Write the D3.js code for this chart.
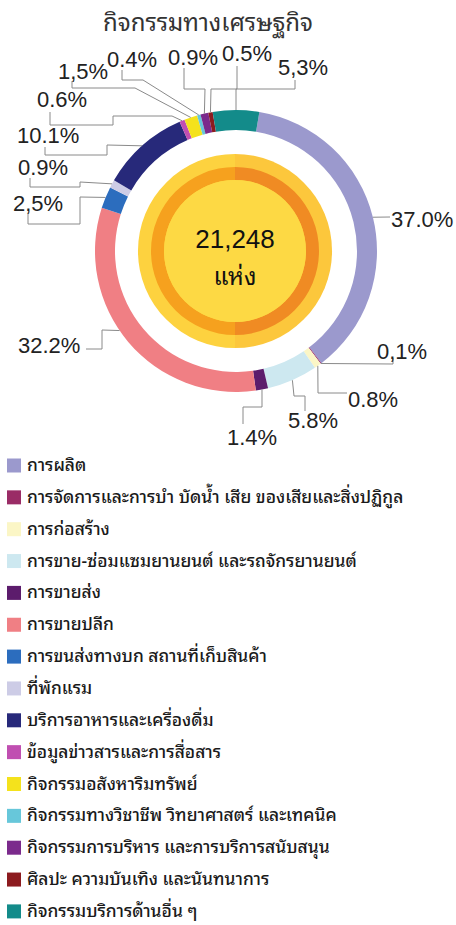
<!DOCTYPE html>
<html>
<head>
<meta charset="utf-8">
<script src="https://cdn.jsdelivr.net/npm/d3@7"></script>
<style>
  html, body { margin: 0; padding: 0; background: #fff; }
  svg { display: block; }
</style>
</head>
<body>
<svg id="chart" width="456" height="925"></svg>
<script>
// ---- data ----
const title = "กิจกรรมทางเศรษฐกิจ";
const categories = [
  "การผลิต",
  "การจัดการและการบำ บัดน้ำ เสีย ของเสียและสิ่งปฏิกูล",
  "การก่อสร้าง",
  "การขาย-ซ่อมแซมยานยนต์ และรถจักรยานยนต์",
  "การขายส่ง",
  "การขายปลีก",
  "การขนส่งทางบก สถานที่เก็บสินค้า",
  "ที่พักแรม",
  "บริการอาหารและเครื่องดื่ม",
  "ข้อมูลข่าวสารและการสื่อสาร",
  "กิจกรรมอสังหาริมทรัพย์",
  "กิจกรรมทางวิชาชีพ วิทยาศาสตร์ และเทคนิค",
  "กิจกรรมการบริหาร และการบริการสนับสนุน",
  "ศิลปะ ความบันเทิง และนันทนาการ",
  "กิจกรรมบริการด้านอื่น ๆ"
];
const values = [37.0, 0.1, 0.8, 5.8, 1.4, 32.2, 2.5, 0.9, 10.1, 0.6, 1.5, 0.4, 0.9, 0.5, 5.3];
const valueLabels = ["37.0%", "0,1%", "0.8%", "5.8%", "1.4%", "32.2%", "2,5%", "0.9%", "10.1%", "0.6%", "1,5%", "0.4%", "0.9%", "0.5%", "5,3%"];
const colors = ["#9b99cd", "#9a2c66", "#fbf6c6", "#cde8f0", "#5c1c6c", "#f07f84", "#2c6dbe", "#cdcce6",
                "#27297a", "#c04fb1", "#f4e21c", "#67c7da", "#7b2a8c", "#8c1b1f", "#138b8a"];
const centerValue = "21,248";
const centerUnit = "แห่ง";

// ---- annotation layout (label text position + leader elbows) ----
const labelLayout = [
  { tx: 391, ty: 227, pts: [[390, 217]] },
  { tx: 377, ty: 359, pts: [[393, 364], [393, 358]] },
  { tx: 348, ty: 407, pts: [[318, 393], [347, 393]] },
  { tx: 288, ty: 428, pts: [[294, 396], [305, 396], [305, 411]] },
  { tx: 227, ty: 445, pts: [[262, 407], [243, 407], [243, 424]] },
  { tx: 18,  ty: 353, pts: [[102, 330], [102, 349], [86, 349]] },
  { tx: 13,  ty: 211, pts: [[80, 197], [80, 224], [28, 224], [28, 214]] },
  { tx: 18,  ty: 175, pts: [[80, 182], [80, 187], [30, 187], [30, 178]] },
  { tx: 17,  ty: 143, pts: [[107, 145], [107, 155], [45, 155], [45, 147]] },
  { tx: 37,  ty: 107, pts: [[172, 116], [113, 116], [113, 125], [50, 125], [50, 112]] },
  { tx: 58,  ty: 79,  pts: [[135, 88], [72, 88], [72, 81]] },
  { tx: 107, ty: 67,  pts: [[143, 80], [122, 80], [122, 70]] },
  { tx: 168, ty: 65,  pts: [[205, 89], [184, 89], [184, 68]] },
  { tx: 222, ty: 61,  pts: [[211, 89], [237, 89], [237, 66]] },
  { tx: 278, ty: 75,  pts: [[236, 89], [295, 89], [295, 80]] }
];
const labelFrac = [0.5, 0.5, 0.5, 0.5, 0.5, 0.55, 0.5, 0.5, 0.5, 0.5, 0.5, 0.5, 0.5, 0.5, 0.5];

// ---- drawing ----
const svg = d3.select("#chart");
const cx = 236, cy = 251, R = 141, r = 121;
const thaiFont = "'Noto Sans Thai Looped', 'Noto Sans Thai', Tahoma, 'Noto Sans', 'DejaVu Sans', sans-serif";
const numFont = "'Liberation Sans', Arial, sans-serif";

svg.append("text")
  .attr("x", 208).attr("y", 31)
  .attr("text-anchor", "middle")
  .attr("font-family", thaiFont)
  .attr("font-size", 24)
  .attr("fill", "#333")
  .text(title);

const total = d3.sum(values);
const offset = Math.PI * values[values.length - 1] / total;
const pie = d3.pie().sort(null).value(d => d)
  .startAngle(offset).endAngle(offset + 2 * Math.PI);
const arcs = pie(values);
const arc = d3.arc().innerRadius(r).outerRadius(R);

const g = svg.append("g").attr("transform", `translate(${cx},${cy})`);
g.selectAll("path.seg")
  .data(arcs)
  .join("path")
  .attr("class", "seg")
  .attr("d", arc)
  .attr("fill", (d, i) => colors[i]);

// center medallion
const cg = svg.append("g").attr("transform", `translate(${cx - 1},${cy})`);
const halfArc = (ri, ro, a0, a1) => d3.arc().innerRadius(ri).outerRadius(ro).startAngle(a0).endAngle(a1)();
cg.append("path").attr("d", halfArc(0, 97, Math.PI, 2 * Math.PI)).attr("fill", "#fdd23f");
cg.append("path").attr("d", halfArc(0, 97, 0, Math.PI)).attr("fill", "#fcc73c");
cg.append("path").attr("d", halfArc(71, 84, Math.PI, 2 * Math.PI)).attr("fill", "#f6a11e");
cg.append("path").attr("d", halfArc(71, 84, 0, Math.PI)).attr("fill", "#f08b23");
cg.append("circle").attr("r", 71).attr("fill", "#fdd944");
cg.append("text").attr("y", -3).attr("text-anchor", "middle")
  .attr("font-family", numFont).attr("font-size", 26).attr("fill", "#111")
  .text(centerValue);
cg.append("text").attr("y", 34).attr("text-anchor", "middle")
  .attr("font-family", thaiFont).attr("font-size", 24).attr("fill", "#111")
  .text(centerUnit);

// leader lines and labels
const line = d3.line();
arcs.forEach((d, i) => {
  const L = labelLayout[i];
  const a = d.startAngle + labelFrac[i] * (d.endAngle - d.startAngle);
  const sx = cx + R * Math.sin(a), sy = cy - R * Math.cos(a);
  svg.append("path")
    .attr("d", line([[sx, sy], ...L.pts]))
    .attr("fill", "none")
    .attr("stroke", "#8a8a8a")
    .attr("stroke-width", 1);
  svg.append("text")
    .attr("x", L.tx).attr("y", L.ty)
    .attr("font-family", numFont)
    .attr("font-size", 22)
    .attr("fill", "#222")
    .text(valueLabels[i]);
});

// legend
const leg = svg.append("g");
const rows = leg.selectAll("g.row").data(categories).join("g")
  .attr("class", "row")
  .attr("transform", (d, i) => `translate(7,${465.5 + i * 31.85})`);
rows.append("rect").attr("x", 0).attr("y", -7).attr("width", 14).attr("height", 14)
  .attr("fill", (d, i) => colors[i]);
rows.append("text").attr("x", 20).attr("y", 5.5)
  .attr("font-family", thaiFont).attr("font-size", 17.4).attr("font-weight", 500).attr("fill", "#1a1a1a")
  .text(d => d);
</script>
</body>
</html>
